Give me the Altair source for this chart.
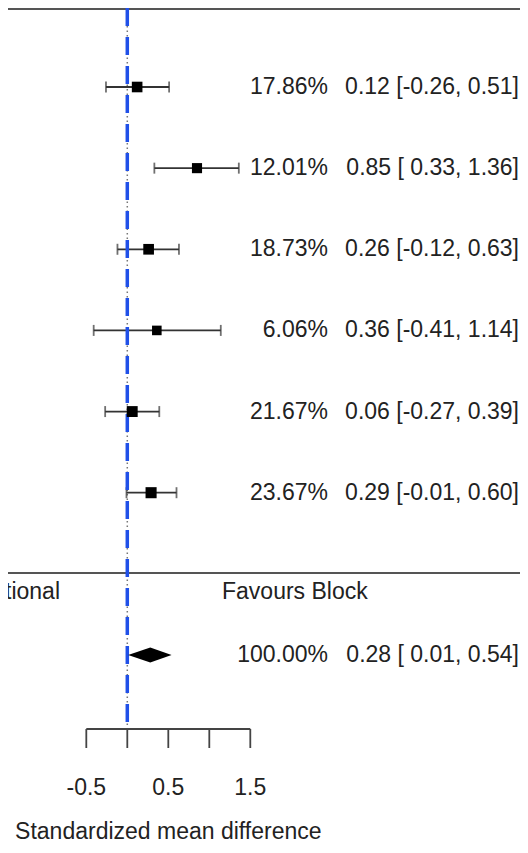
import altair as alt
import pandas as pd

# ---- data ----
weights_lbl = ["17.86%", "12.01%", "18.73%", "6.06%", "21.67%", "23.67%"]
weights = [17.86, 12.01, 18.73, 6.06, 21.67, 23.67]
est = [0.12, 0.85, 0.26, 0.36, 0.06, 0.29]
lo = [-0.26, 0.33, -0.12, -0.41, -0.27, -0.01]
hi = [0.51, 1.36, 0.63, 1.14, 0.39, 0.60]

sum_weight_lbl = "100.00%"
sum_est = 0.28
sum_lo = 0.01
sum_hi = 0.54

ref_value = 0
tick_values = [-0.5, 0, 0.5, 1, 1.5]
tick_labels = [-0.5, 0.5, 1.5]
axis_title = "Standardized mean difference"
left_label = "Favours Traditional"
right_label = "Favours Block"

# ---- layout constants ----
W, H = 512, 837
ROW_PX = 81.14
X0_PX = 119.3      # pixel of x = 0
UNIT_PX = 82.0     # pixels per unit of SMD
FONT = "Liberation Sans"
FS = 23
TXT = "#222222"

def ci_text(e, l, h):
    return f"{e:.2f} [{l:5.2f}, {h:.2f}]"

rows = list(range(1, len(est) + 1))
studies = pd.DataFrame({
    "row": rows, "est": est, "lo": lo, "hi": hi, "w": weights,
    "pct": weights_lbl,
    "ci": [ci_text(e, l, h) for e, l, h in zip(est, lo, hi)],
})
sum_row = len(est) + 2
summary = pd.DataFrame({"row": [sum_row], "pct": [sum_weight_lbl],
                        "ci": [ci_text(sum_est, sum_lo, sum_hi)]})

dh = 7.5 / ROW_PX
diamond = pd.DataFrame({
    "x": [sum_lo, sum_est, sum_hi],
    "top": [sum_row, sum_row - dh, sum_row],
    "bot": [sum_row, sum_row + dh, sum_row],
})

ticks = pd.DataFrame({"t": tick_values})
tlabels = pd.DataFrame({"t": tick_labels, "lab": [f"{v:g}" for v in tick_labels]})
ref_df = pd.DataFrame({"x": [ref_value]})
axis_df = pd.DataFrame({"a": [tick_values[0]], "b": [tick_values[-1]],
                        "mid": [(tick_values[0] + tick_values[-1]) / 2],
                        "ttl": [axis_title]})
fav_df = pd.DataFrame({"l": [left_label], "r": [right_label]})

xscale = alt.Scale(domain=[-X0_PX / UNIT_PX, (W - X0_PX) / UNIT_PX], nice=False, zero=False)
y0 = 1 - 79 / ROW_PX
y1 = 1 + (H - 79) / ROW_PX
yscale = alt.Scale(domain=[y0, y1], nice=False, zero=False, reverse=True)

def X(f):
    return alt.X(f, type="quantitative", scale=xscale, axis=None)

def Y(f):
    return alt.Y(f, type="quantitative", scale=yscale, axis=None)

base = alt.Chart(studies)

errbars = base.mark_rule(color="#333333", strokeWidth=1.8).encode(
    x=X("lo"), x2="hi", y=Y("row"))
caps_lo = base.mark_tick(color="#333333", orient="vertical", size=11, thickness=1.8).encode(
    x=X("lo"), y=Y("row"))
caps_hi = base.mark_tick(color="#333333", orient="vertical", size=11, thickness=1.8).encode(
    x=X("hi"), y=Y("row"))
squares = base.mark_square(color="black", opacity=1, filled=True).encode(
    x=X("est"), y=Y("row"),
    size=alt.Size("w:Q", scale=alt.Scale(domain=[5, 25], range=[90, 125]), legend=None))

pct_txt = base.mark_text(align="right", baseline="middle", font=FONT, fontSize=FS, color=TXT).encode(
    x=alt.value(320), y=Y("row"), text="pct:N")
ci_txt = base.mark_text(align="right", baseline="middle", font=FONT, fontSize=FS, color=TXT).encode(
    x=alt.value(511), y=Y("row"), text="ci:N")

dia = alt.Chart(diamond).mark_area(color="black", orient="vertical").encode(
    x=X("x"), y=Y("top"), y2="bot")
s_pct = alt.Chart(summary).mark_text(align="right", baseline="middle", font=FONT, fontSize=FS, color=TXT).encode(
    x=alt.value(320), y=Y("row"), text="pct:N")
s_ci = alt.Chart(summary).mark_text(align="right", baseline="middle", font=FONT, fontSize=FS, color=TXT).encode(
    x=alt.value(511), y=Y("row"), text="ci:N")

# frame lines
top_line = alt.Chart(fav_df).mark_rule(color="#555555", strokeWidth=2).encode(
    x=alt.value(0), x2=alt.value(W), y=alt.value(1))
sep_line = alt.Chart(fav_df).mark_rule(color="#555555", strokeWidth=2).encode(
    x=alt.value(0), x2=alt.value(W), y=alt.value(565))

# zero reference lines
zero_dots = alt.Chart(ref_df).mark_rule(color="#777777", strokeWidth=1.5, strokeDash=[1.5, 3]).encode(
    x=X("x"), y=alt.value(0), y2=alt.value(721))
zero_blue = alt.Chart(ref_df).mark_rule(color="#2050e8", strokeWidth=3.5, strokeDash=[18, 11]).encode(
    x=X("x"), y=alt.value(0), y2=alt.value(714))

# custom x axis
axis_line = alt.Chart(axis_df).mark_rule(color="#444444", strokeWidth=1.8).encode(
    x=X("a"), x2="b", y=alt.value(721))
axis_ticks = alt.Chart(ticks).mark_rule(color="#444444", strokeWidth=1.8).encode(
    x=X("t"), y=alt.value(721), y2=alt.value(740))
axis_labels = alt.Chart(tlabels).mark_text(align="center", baseline="middle", font=FONT, fontSize=FS, color=TXT).encode(
    x=X("t"), y=alt.value(780), text="lab:N")
axis_ttl = alt.Chart(axis_df).mark_text(align="center", baseline="bottom", font=FONT, fontSize=FS,
                                        color=TXT).encode(
    x=X("mid"), y=alt.value(H - 1), text="ttl:N")

fav_l = alt.Chart(fav_df).mark_text(align="right", baseline="middle", font=FONT, fontSize=FS,
                                    color=TXT).encode(
    x=alt.value(52), y=alt.value(584), text="l:N")
fav_r = alt.Chart(fav_df).mark_text(align="left", baseline="middle", font=FONT, fontSize=FS,
                                    color=TXT).encode(
    x=alt.value(214), y=alt.value(584), text="r:N")

chart = alt.layer(
    top_line, sep_line, zero_dots, axis_line, axis_ticks, axis_labels, axis_ttl,
    fav_l, fav_r, errbars, caps_lo, caps_hi, zero_blue, squares, dia,
    pct_txt, ci_txt, s_pct, s_ci,
).properties(
    width=W, height=H, autosize=alt.AutoSizeParams(type="none"), padding=0
).configure_view(stroke=None)

chart.save("out.html", embed_options={"renderer": "svg", "actions": False})
